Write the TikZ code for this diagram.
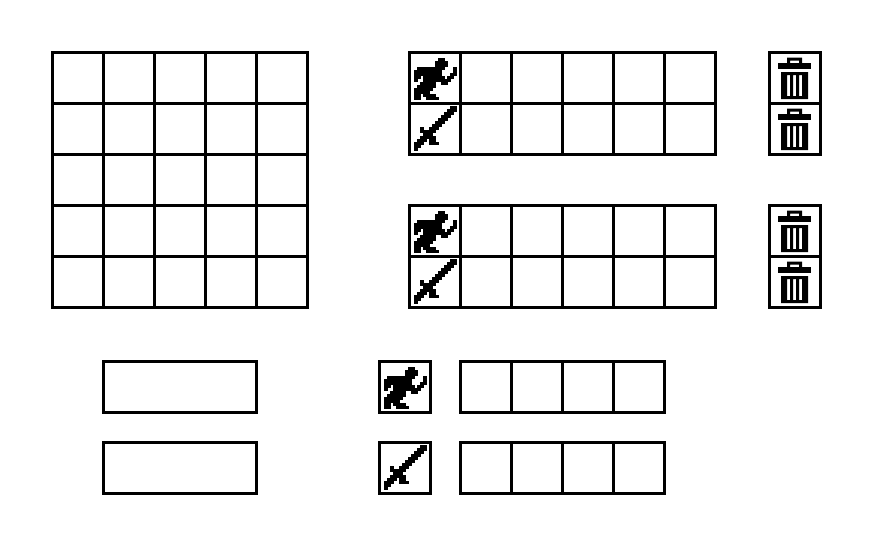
\documentclass[tikz,border=0pt]{standalone}
\usepackage{tikz}
\tikzset{
  slot/.style={draw=black, line width=3pt, inner sep=0pt, outer sep=0pt, minimum size=51pt},
  wideslot/.style={slot, minimum width=153pt},
  runicon/.pic={
    \foreach \r/\a/\b in {2/10/12, 3/9/13, 4/9/13, 5/3/12, 5/15/16, 6/2/11, 6/15/16, 7/2/11, 7/14/16,
                          8/2/4, 8/5/12, 8/13/15, 9/2/3, 9/5/14, 10/4/9, 10/11/13, 11/3/9, 12/2/8, 13/2/7,
                          14/2/4, 14/5/9, 15/2/4, 15/6/10}
      \fill (3*\a-27,3*\r-26) rectangle (3*\b-26,3*\r-22.9);
  },
  swordicon/.pic={
    \foreach \r/\a/\b in {1/14/16, 2/13/16, 3/12/15, 4/11/14, 5/10/13, 6/9/12, 7/8/11, 8/4/5, 8/7/10,
                          9/4/9, 10/5/8, 11/4/9, 12/3/6, 12/7/9, 13/2/5, 13/7/10, 14/2/4, 15/2/3}
      \fill (3*\a-27,3*\r-26) rectangle (3*\b-26,3*\r-22.9);
  },
  trashicon/.pic={
    \fill[even odd rule] (-8,-20.5) rectangle (7,-15) (-5,-17.5) rectangle (4,-15);
    \fill (-17,-15) rectangle (16,-9);
    \fill[even odd rule] (-14,-6) rectangle (13,21)
      (-8,-3) rectangle (-5,18) (-2,-3) rectangle (1,18) (4,-3) rectangle (7,18);
  }
}
\begin{document}
\begin{tikzpicture}[x=1pt, y=-1pt]
\useasboundingbox (0,0) rectangle (873,546);
% big square
\foreach \r in {0,...,4}
  \foreach \c in {0,...,4}
    \node[slot] (board\r\c) at (78+51*\c, 78+51*\r) {};
% upper tables
\foreach \r/\y in {0/78, 1/129, 2/231, 3/282}
  \foreach \c in {0,...,5}
    \node[slot] (table\r\c) at (435+51*\c, \y) {};
\foreach \r/\y in {0/78, 1/129, 2/231, 3/282}
  \node[slot] (bin\r) at (795, \y) {};
\pic at (table00) {runicon};
\pic at (table10) {swordicon};
\pic at (table20) {runicon};
\pic at (table30) {swordicon};
\foreach \r in {0,...,3}
  \pic at (bin\r) {trashicon};
% lower row
\node[wideslot] (nameA) at (180, 387) {};
\node[wideslot] (nameB) at (180, 468) {};
\node[slot] (iconA) at (405, 387) {};
\node[slot] (iconB) at (405, 468) {};
\pic at (iconA) {runicon};
\pic at (iconB) {swordicon};
\foreach \c in {0,...,3} {
  \node[slot] (rowA\c) at (486+51*\c, 387) {};
  \node[slot] (rowB\c) at (486+51*\c, 468) {};
}
\end{tikzpicture}
\end{document}
